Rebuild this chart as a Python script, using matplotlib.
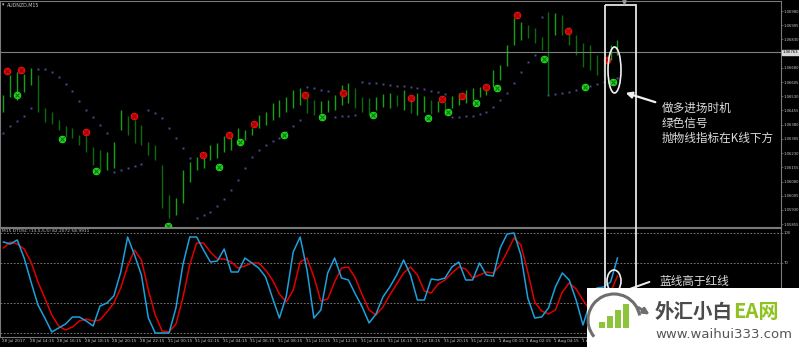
#!/usr/bin/env python3
"""AUDNZD M15 chart with Parabolic SAR, signal dots and DTOSC, annotated."""

import numpy as np
import matplotlib.pyplot as plt
from matplotlib.patches import Ellipse, Rectangle, Arc, FancyArrowPatch

# ---- price bars (M15, one entry per drawn bar) ----
HIGH = [1.06536, 1.06642, 1.06658, 1.06647, 1.06679, 1.06642, 1.06468, 1.06447, 1.06404, 1.06373,
        1.06362, 1.06325, 1.06320, 1.06262, 1.06246, 1.06236, 1.06288, 1.06457, 1.06426, 1.06404,
        1.06378, 1.06288, 1.06272, 1.06167, 1.06008, 1.05993, 1.06140, 1.06183, 1.06209, 1.06204,
        1.06272, 1.06283, 1.06320, 1.06315, 1.06362, 1.06352, 1.06362, 1.06431, 1.06447, 1.06494,
        1.06510, 1.06526, 1.06563, 1.06573, 1.06521, 1.06510, 1.06505, 1.06510, 1.06536, 1.06589,
        1.06600, 1.06573, 1.06526, 1.06521, 1.06526, 1.06542, 1.06547, 1.06536, 1.06563, 1.06510,
        1.06547, 1.06531, 1.06510, 1.06505, 1.06500, 1.06531, 1.06547, 1.06563, 1.06573, 1.06579,
        1.06589, 1.06668, 1.06695, 1.06800, 1.06943, 1.06922, 1.06906, 1.06890, 1.06843, 1.06975,
        1.06969, 1.06959, 1.06896, 1.06853, 1.06811, 1.06800, 1.06748, 1.06732, 1.06800, 1.06827]
LOW = [1.06447, 1.06526, 1.06510, 1.06552, 1.06589, 1.06447, 1.06394, 1.06383, 1.06352, 1.06315,
       1.06309, 1.06272, 1.06236, 1.06167, 1.06130, 1.06140, 1.06151, 1.06352, 1.06325, 1.06283,
       1.06272, 1.06220, 1.06193, 1.05940, 1.05887, 1.05903, 1.05966, 1.06077, 1.06140, 1.06151,
       1.06193, 1.06204, 1.06236, 1.06246, 1.06288, 1.06299, 1.06325, 1.06362, 1.06378, 1.06404,
       1.06420, 1.06447, 1.06468, 1.06484, 1.06441, 1.06431, 1.06441, 1.06447, 1.06457, 1.06484,
       1.06494, 1.06468, 1.06447, 1.06431, 1.06457, 1.06473, 1.06468, 1.06478, 1.06457, 1.06441,
       1.06431, 1.06447, 1.06436, 1.06447, 1.06431, 1.06468, 1.06484, 1.06494, 1.06510, 1.06526,
       1.06536, 1.06579, 1.06616, 1.06690, 1.06800, 1.06827, 1.06837, 1.06811, 1.06774, 1.06536,
       1.06853, 1.06853, 1.06800, 1.06748, 1.06684, 1.06668, 1.06642, 1.06632, 1.06721, 1.06748]

# ---- Parabolic SAR, one value per bar ----
SAR = [1.06336, 1.06373, 1.06399, 1.06426, 1.06468, 1.06674, 1.06674, 1.06658, 1.06632, 1.06595,
       1.06558, 1.06505, 1.06457, 1.06420, 1.06378, 1.06336, 1.06130, 1.06140, 1.06151, 1.06162,
       1.06172, 1.06457, 1.06441, 1.06415, 1.06362, 1.06309, 1.06257, 1.06204, 1.05887, 1.05903,
       1.05919, 1.05950, 1.05987, 1.06035, 1.06088, 1.06151, 1.06209, 1.06246, 1.06272, 1.06294,
       1.06309, 1.06341, 1.06373, 1.06404, 1.06579, 1.06573, 1.06563, 1.06558, 1.06420, 1.06426,
       1.06426, 1.06431, 1.06605, 1.06600, 1.06600, 1.06595, 1.06589, 1.06584, 1.06584, 1.06579,
       1.06573, 1.06568, 1.06558, 1.06552, 1.06542, 1.06420, 1.06420, 1.06426, 1.06426, 1.06436,
       1.06447, 1.06473, 1.06510, 1.06547, 1.06600, 1.06658, 1.06711, 1.06748, 1.06948, 1.06536,
       1.06542, 1.06547, 1.06552, 1.06563, 1.06573, 1.06584, 1.06595, 1.06605, 1.06616, 1.06626]

# ---- signal arrows (bar position, price) ----
SELL_POS = [0.5, 2.5, 12.0, 18.9, 28.9, 32.7, 36.3, 43.7, 49.2, 59.1, 63.6, 66.5, 70.0, 74.4, 81.8, 87.5]
SELL_PRICE = [1.06663, 1.06668, 1.06341, 1.06426, 1.06220, 1.06325, 1.06383, 1.06536, 1.06547,
              1.06521, 1.06515, 1.06531, 1.06579, 1.06959, 1.06874, 1.06721]
BUY_POS = [2.0, 8.5, 13.4, 23.8, 31.2, 34.3, 40.7, 46.2, 53.6, 61.5, 64.4, 68.5, 71.5, 78.3, 84.3, 88.3]
BUY_PRICE = [1.06536, 1.06304, 1.06135, 1.05845, 1.06156, 1.06288, 1.06325, 1.06420, 1.06431,
             1.06415, 1.06447, 1.06494, 1.06573, 1.06727, 1.06579, 1.06605]

# ---- DTOSC oscillator ----
DTOSC_FAST = [91, 89, 93, 75, 51, 28, 15, 1, 5, 9, 16, 16, 12, 7, 27, 30, 37, 61, 96, 78,
              58, 15, 0, 0, 0, 25, 68, 96, 96, 83, 71, 72, 84, 61, 61, 75, 70, 65, 56, 35,
              15, 37, 81, 96, 63, 15, 23, 60, 75, 55, 53, 39, 26, 10, 19, 36, 46, 58, 73, 58,
              33, 33, 54, 53, 55, 66, 71, 53, 53, 70, 58, 57, 85, 99, 100, 78, 35, 15, 16, 25,
              46, 60, 53, 33, 8, 30, 45, 46, 51, 75]
DTOSC_SLOW = [85, 91, 89, 84, 71, 51, 35, 18, 7, 3, 6, 12, 14, 12, 13, 21, 30, 45, 67, 83,
              73, 43, 18, 2, 1, 9, 35, 68, 90, 90, 81, 74, 74, 71, 65, 67, 70, 70, 63, 53,
              39, 31, 43, 71, 75, 56, 32, 34, 51, 65, 66, 55, 38, 23, 18, 26, 38, 49, 60, 66,
              58, 42, 40, 49, 53, 60, 66, 64, 55, 58, 61, 60, 68, 81, 95, 88, 61, 31, 22, 19,
              23, 41, 50, 44, 33, 23, 25, 33, 41, 57]
OSC_LEVELS = [100, 70, 30, 0]

# ---- axis labels ----
PRICE_TICKS = [1.06980, 1.06905, 1.06830, 1.06680, 1.06605, 1.06530, 1.06455, 1.06380,
               1.06305, 1.06230, 1.06155, 1.06080, 1.06005, 1.05930, 1.05855]
LAST_PRICE = 1.06763
TIME_LABELS = ["28 Jul 2017", "28 Jul 14:15", "28 Jul 16:15", "28 Jul 18:15", "28 Jul 20:15",
               "28 Jul 22:15", "31 Jul 00:15", "31 Jul 02:15", "31 Jul 04:15", "31 Jul 06:15",
               "31 Jul 08:15", "31 Jul 10:15", "31 Jul 12:15", "31 Jul 14:15", "31 Jul 16:15",
               "31 Jul 18:15", "31 Jul 20:15", "31 Jul 22:15", "1 Aug 00:15", "1 Aug 02:15",
               "1 Aug 04:15", "1 Aug 06:15", "1 Aug 08:15"]

W, H = 799, 347
FG = "#c8c8c8"
FRAME = "#7a7a7a"
CJK = ["Noto Sans CJK SC", "DejaVu Sans"]


def style_axes(ax):
    ax.set_facecolor("black")
    for sp in ax.spines.values():
        sp.set_color(FRAME)
        sp.set_linewidth(0.8)
    ax.tick_params(colors=FRAME, labelcolor=FG, labelsize=2.7, length=1.2, width=0.5, pad=0.5)


def main():
    high = np.array(HIGH)
    low = np.array(LOW)
    x = np.arange(len(high))
    mid = (high + low) / 2
    rising = np.r_[True, mid[1:] >= mid[:-1]]

    fig = plt.figure(figsize=(W / 100, H / 100), dpi=100, facecolor="black")

    # price window
    ax = fig.add_axes([0, (H - 227) / H, 781 / W, 226 / H])
    style_axes(ax)
    ax.vlines(x[rising], low[rising], high[rising], color="#16a016", lw=1.0)
    ax.vlines(x[~rising], low[~rising], high[~rising], color="#0b6a0b", lw=1.0)
    ax.plot(x, SAR, ls="none", marker="s", ms=1.4, color="#4b4b92", mew=0)
    ax.plot(SELL_POS, SELL_PRICE, ls="none", marker="o", ms=5, color="#e00000", mec="#ff2020", mew=0.4)
    ax.plot(SELL_POS, SELL_PRICE, ls="none", marker="x", ms=2.5, color="#7a0000", mew=0.6)
    ax.plot(BUY_POS, BUY_PRICE, ls="none", marker="o", ms=5, color="#18d018", mec="#30f030", mew=0.4)
    ax.plot(BUY_POS, BUY_PRICE, ls="none", marker="x", ms=2.5, color="#006000", mew=0.6)
    ax.axhline(LAST_PRICE, color="#808080", lw=0.8)
    ax.set_xlim(-0.5, 112.7)
    ax.set_ylim(1.05840, 1.07033)
    ax.set_xticks([])
    ax.yaxis.tick_right()
    ax.set_yticks(PRICE_TICKS)
    ax.set_yticklabels([f"{p:.5f}" for p in PRICE_TICKS])
    ax.text(1.0025, LAST_PRICE, f"{LAST_PRICE:.5f}", transform=ax.get_yaxis_transform(),
            fontsize=2.7, color="black", va="center", ha="left",
            bbox=dict(boxstyle="square,pad=0.15", fc="#d8d8d8", ec="#d8d8d8"))
    ax.text(0.009, 0.983, "AUDNZD,M15", transform=ax.transAxes, fontsize=3.4, color=FG,
            va="center", ha="left")
    ax.text(0.002, 0.983, "\u25be", transform=ax.transAxes, fontsize=3.4, color=FG,
            va="center", ha="left")

    # oscillator window
    ox = fig.add_axes([0, (H - 337) / H, 781 / W, 109 / H])
    style_axes(ox)
    for lv in OSC_LEVELS:
        ox.axhline(lv, color="#8c8c8c", lw=0.6, ls=(0, (2, 2)))
    ox.plot(x, DTOSC_SLOW, color="#e00000", lw=1.1)
    ox.plot(x, DTOSC_FAST, color="#1ea0dc", lw=1.1)
    ox.set_xlim(-0.5, 112.7)
    ox.set_ylim(-4, 105)
    ox.yaxis.tick_right()
    ox.set_yticks([100, 70])
    ox.set_yticklabels(["100", "70"])
    ox.set_xticks(np.arange(len(TIME_LABELS)) * 4 - 0.2)
    ox.set_xticklabels(TIME_LABELS)
    ox.tick_params(axis="x", labelsize=3.0)
    for lab in ox.get_xticklabels():
        lab.set_ha("left")
    ox.text(0.003, 0.975, "M15 DTOSC (13,5,5,5) 82.2072 58.9911", transform=ox.transAxes,
            fontsize=3.2, color=FG, va="center", ha="left")

    # annotation overlay in pixel coordinates
    ov = fig.add_axes([0, 0, 1, 1])
    ov.set_xlim(0, W)
    ov.set_ylim(H, 0)
    ov.axis("off")
    ov.patch.set_alpha(0)

    ov.plot([624], [2], marker="v", ms=2.5, color="#9a9a9a", ls="none")
    ov.add_patch(Rectangle((605, 5), 31, 345, fill=False, ec="#e6e6e6", lw=1.3))
    ov.add_patch(Ellipse((614.5, 70), 13, 46, fill=False, ec="#f0f0f0", lw=1.2))
    ov.add_patch(FancyArrowPatch((658, 103), (623, 92), arrowstyle="-|>", mutation_scale=9,
                                 color="#f0f0f0", lw=1.6))
    txt = dict(fontsize=8.4, color="#dcdcdc", family=CJK, va="center", ha="left")
    ov.text(662, 108, "做多进场时机", **txt)
    ov.text(662, 123, "绿色信号", **txt)
    ov.text(662, 138, "抛物线指标在K线下方", **txt)

    ov.add_patch(Ellipse((614, 281), 14, 22, fill=False, ec="#f0f0f0", lw=1.2))
    ov.add_patch(FancyArrowPatch((652, 281), (624, 291), arrowstyle="-", color="#f0f0f0", lw=1.4))
    ov.text(659, 281, "蓝线高于红线", **txt)

    # watermark
    ov.add_patch(Rectangle((587, 288), 212, 60, fc="white", ec="none"))
    ov.add_patch(Arc((614, 320), 52, 52, theta1=140, theta2=350, ec="#6e6e6e", lw=2.2))
    ov.add_patch(FancyArrowPatch((636, 306), (652, 316), arrowstyle="-|>", mutation_scale=9,
                                 color="#6e6e6e", lw=2.0))
    for bx, top in [(599, 322), (607, 316), (615, 310), (623, 304)]:
        ov.add_patch(Rectangle((bx, top), 6, 328 - top, fc="#8cc43c", ec="none"))
    ov.text(655, 312, "外汇小白", fontsize=14, fontweight="bold", color="#4a4a4a",
            family=CJK, va="center", ha="left")
    ov.text(733, 312, "EA网", fontsize=14.5, fontweight="bold", color="#8dc21f",
            family=CJK, va="center", ha="left")
    ov.text(655, 334, "www.waihui333.com", fontsize=9.5, color="#555555",
            va="center", ha="left")

    fig.savefig("out.png", dpi=100, facecolor="black")
    plt.close(fig)


if __name__ == "__main__":
    main()
